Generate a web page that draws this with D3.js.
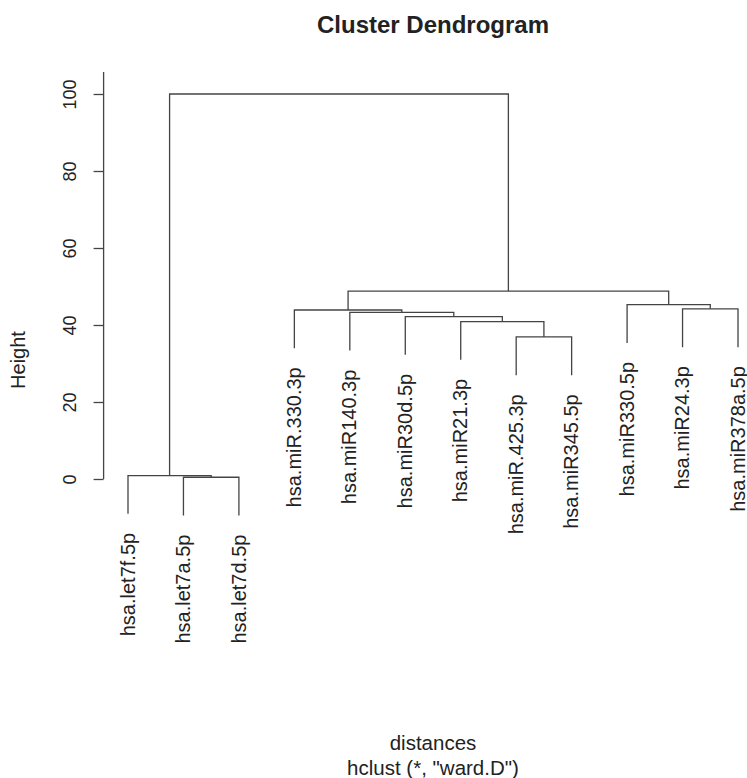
<!DOCTYPE html>
<html>
<head>
<meta charset="utf-8">
<script src="https://cdn.jsdelivr.net/npm/d3@7"></script>
<style>
  body { margin: 0; background: #fff; }
  text { font-family: "Liberation Sans", Arial, Helvetica, sans-serif; fill: #222; }
</style>
</head>
<body>
<div id="chart"></div>
<script>
// leaf labels, in plotting order
var labels = ["hsa.let7f.5p", "hsa.let7a.5p", "hsa.let7d.5p", "hsa.miR.330.3p", "hsa.miR140.3p",
    "hsa.miR30d.5p", "hsa.miR21.3p", "hsa.miR.425.3p", "hsa.miR345.5p", "hsa.miR330.5p",
    "hsa.miR24.3p", "hsa.miR378a.5p"];

// hclust-style merge table: negative = leaf (1-based), positive = earlier merge
var mergeLeft = [-2, -1, -8, -7, -6, -5, -4, -11, -10, 7, 2];
var mergeRight = [-3, 1, -9, 3, 4, 5, 6, -12, 8, 9, 10];
var mergeHeight = [0.45, 0.9, 36.9, 40.9, 42.2, 43.3, 43.9, 44.2, 45.3, 48.8, 100];

var yTicks = [0, 20, 40, 60, 80, 100];

var W = 747, H = 778;
var n = labels.length;
var pad = 0.04 * (n - 1);
var hang = 0.1 * (d3.max(mergeHeight) - d3.min(mergeHeight));

var svg = d3.select("#chart").append("svg")
    .attr("width", W)
    .attr("height", H);

var x = d3.scaleLinear().domain([0, n - 1]).range([128, 738]);
var y = d3.scaleLinear().domain([0, 100]).range([479, 94]);

// x position of each merge = mean of its children
var mergeX = [];
function pos(id) { return id < 0 ? (-id - 1) : mergeX[id - 1]; }
for (var i = 0; i < mergeHeight.length; i++) {
    mergeX.push((pos(mergeLeft[i]) + pos(mergeRight[i])) / 2);
}
function childHeight(id, parentH) { return id < 0 ? parentH - hang : mergeHeight[id - 1]; }

var links = mergeHeight.map(function (h, i) {
    return {
        xl: pos(mergeLeft[i]), hl: childHeight(mergeLeft[i], h),
        xr: pos(mergeRight[i]), hr: childHeight(mergeRight[i], h),
        h: h
    };
});

svg.append("g").selectAll("path")
    .data(links)
    .enter()
    .append("path")
    .attr("d", function (d) {
        return "M" + x(d.xl) + "," + y(d.hl) + "V" + y(d.h) + "H" + x(d.xr) + "V" + y(d.hr);
    })
    .attr("fill", "none")
    .attr("stroke", "#444")
    .attr("stroke-width", 1.3);

// leaf labels
var leafH = [];
mergeHeight.forEach(function (h, i) {
    if (mergeLeft[i] < 0) leafH[-mergeLeft[i] - 1] = h - hang;
    if (mergeRight[i] < 0) leafH[-mergeRight[i] - 1] = h - hang;
});

svg.append("g").selectAll("text")
    .data(labels)
    .enter()
    .append("text")
    .attr("transform", function (d, i) {
        return "translate(" + x(i) + "," + (y(leafH[i]) + 19) + ") rotate(-90)";
    })
    .attr("text-anchor", "end")
    .attr("dy", "0.33em")
    .style("font-size", "20px")
    .text(function (d) { return d; });

// y axis
var axisX = x(-pad);
var yAxis = svg.append("g")
    .attr("transform", "translate(" + axisX + ",0)")
    .call(d3.axisLeft(y).tickValues(yTicks).tickSize(10).tickSizeOuter(0));
yAxis.select(".domain").remove();
yAxis.selectAll(".tick line").attr("stroke", "#444").attr("stroke-width", 1.3);
yAxis.selectAll(".tick text")
    .attr("x", null).attr("dy", null)
    .attr("text-anchor", "middle")
    .attr("transform", "translate(-28,0) rotate(-90)")
    .style("font-size", "18px")
    .style("font-family", "\"Liberation Sans\", Arial, sans-serif")
    .attr("fill", "#222");
yAxis.append("line")
    .attr("x1", 0).attr("x2", 0)
    .attr("y1", y(0)).attr("y2", y(105.7))
    .attr("stroke", "#444")
    .attr("stroke-width", 1.3);

// titles
var cx = x((n - 1) / 2);
svg.append("text")
    .attr("x", cx).attr("y", 33)
    .attr("text-anchor", "middle")
    .style("font-size", "24px")
    .style("font-weight", "bold")
    .text("Cluster Dendrogram");

svg.append("text")
    .attr("transform", "translate(25,360) rotate(-90)")
    .attr("text-anchor", "middle")
    .style("font-size", "20px")
    .text("Height");

svg.append("text")
    .attr("x", cx).attr("y", 750)
    .attr("text-anchor", "middle")
    .style("font-size", "20.5px")
    .text("distances");

svg.append("text")
    .attr("x", cx).attr("y", 775)
    .attr("text-anchor", "middle")
    .style("font-size", "20.5px")
    .text("hclust (*, \"ward.D\")");
</script>
</body>
</html>
